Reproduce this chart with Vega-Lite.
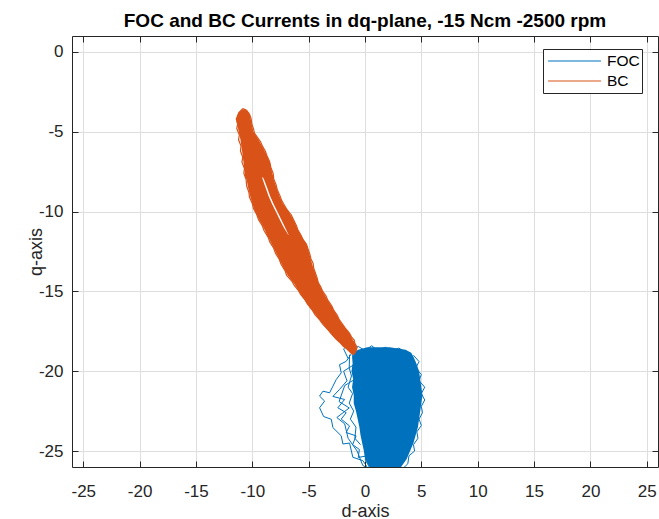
{
  "$schema": "https://vega.github.io/schema/vega-lite/v6.json",
  "width": 586,
  "height": 431,
  "autosize": {"type": "none"},
  "padding": {"left": 72, "top": 36, "right": 1, "bottom": 52},
  "background": "#ffffff",
  "title": {
    "text": "FOC and BC Currents in dq-plane, -15 Ncm -2500 rpm",
    "font": "Liberation Sans",
    "fontSize": 19,
    "fontWeight": "bold",
    "color": "#000000",
    "anchor": "middle",
    "offset": 5
  },
  "config": {
    "view": {"stroke": null},
    "font": "Liberation Sans"
  },
  "datasets": {
    "focArea": [
      {"q": -18.5, "L": 0.2, "R": 2.2},
      {"q": -18.65, "L": -0.6, "R": 3.6},
      {"q": -18.85, "L": -1.1, "R": 4.1},
      {"q": -19.1, "L": -1.15, "R": 4.3},
      {"q": -19.5, "L": -1.1, "R": 4.55},
      {"q": -20.0, "L": -1.2, "R": 4.8},
      {"q": -20.5, "L": -1.05, "R": 4.9},
      {"q": -21.0, "L": -1.15, "R": 5.0},
      {"q": -21.5, "L": -1.0, "R": 5.1},
      {"q": -22.0, "L": -1.0, "R": 5.0},
      {"q": -22.5, "L": -0.8, "R": 4.9},
      {"q": -23.0, "L": -0.65, "R": 4.8},
      {"q": -23.5, "L": -0.5, "R": 4.7},
      {"q": -24.0, "L": -0.4, "R": 4.5},
      {"q": -24.5, "L": -0.25, "R": 4.3},
      {"q": -25.0, "L": -0.1, "R": 4.0},
      {"q": -25.5, "L": 0.0, "R": 3.7},
      {"q": -26.0, "L": 0.4, "R": 3.2},
      {"q": -26.3, "L": 0.7, "R": 2.8}
    ],
    "bcArea": [
      {"part": "t", "q": -3.6, "L": -10.9, "R": -10.6},
      {"part": "t", "q": -3.8, "L": -11.2, "R": -10.35},
      {"part": "t", "q": -4.0, "L": -11.35, "R": -10.2},
      {"part": "t", "q": -4.35, "L": -11.4, "R": -10.1},
      {"part": "t", "q": -4.7, "L": -11.3, "R": -10.0},
      {"part": "t", "q": -5.0, "L": -11.2, "R": -9.9},
      {"part": "t", "q": -5.5, "L": -11.05, "R": -9.45},
      {"part": "t", "q": -6.0, "L": -10.95, "R": -9.05},
      {"part": "t", "q": -6.5, "L": -10.85, "R": -8.7},
      {"part": "t", "q": -7.0, "L": -10.77, "R": -8.4},
      {"part": "t", "q": -7.67, "L": -10.65, "R": -8.2},
      {"part": "t", "q": -7.85, "L": -10.6, "R": -8.15},
      {"part": "l", "q": -7.67, "L": -10.7, "R": -9.19},
      {"part": "l", "q": -8.0, "L": -10.5, "R": -9.07},
      {"part": "l", "q": -8.5, "L": -10.37, "R": -8.82},
      {"part": "l", "q": -9.0, "L": -10.2, "R": -8.57},
      {"part": "l", "q": -9.5, "L": -10.0, "R": -8.27},
      {"part": "l", "q": -10.0, "L": -9.75, "R": -7.92},
      {"part": "l", "q": -10.5, "L": -9.4, "R": -7.57},
      {"part": "l", "q": -11.0, "L": -9.0, "R": -7.21},
      {"part": "l", "q": -11.61, "L": -8.6, "R": -6.68},
      {"part": "r", "q": -7.67, "L": -9.19, "R": -8.2},
      {"part": "r", "q": -8.0, "L": -8.95, "R": -8.1},
      {"part": "r", "q": -8.5, "L": -8.68, "R": -7.85},
      {"part": "r", "q": -9.0, "L": -8.43, "R": -7.6},
      {"part": "r", "q": -9.5, "L": -8.13, "R": -7.3},
      {"part": "r", "q": -10.0, "L": -7.78, "R": -6.8},
      {"part": "r", "q": -10.5, "L": -7.43, "R": -6.35},
      {"part": "r", "q": -11.0, "L": -7.09, "R": -6.05},
      {"part": "r", "q": -11.61, "L": -6.68, "R": -5.6},
      {"part": "b", "q": -11.45, "L": -8.7, "R": -5.75},
      {"part": "b", "q": -12.0, "L": -8.3, "R": -5.2},
      {"part": "b", "q": -12.5, "L": -7.95, "R": -5.0},
      {"part": "b", "q": -13.0, "L": -7.6, "R": -4.8},
      {"part": "b", "q": -13.5, "L": -7.25, "R": -4.6},
      {"part": "b", "q": -14.0, "L": -6.85, "R": -4.35},
      {"part": "b", "q": -14.5, "L": -6.3, "R": -4.1},
      {"part": "b", "q": -15.0, "L": -5.85, "R": -3.75},
      {"part": "b", "q": -15.5, "L": -5.4, "R": -3.35},
      {"part": "b", "q": -16.0, "L": -4.9, "R": -2.9},
      {"part": "b", "q": -16.5, "L": -4.35, "R": -2.5},
      {"part": "b", "q": -17.0, "L": -3.8, "R": -2.1},
      {"part": "b", "q": -17.5, "L": -3.2, "R": -1.5},
      {"part": "b", "q": -18.0, "L": -2.6, "R": -1.1},
      {"part": "b", "q": -18.3, "L": -2.1, "R": -0.85},
      {"part": "b", "q": -18.6, "L": -1.7, "R": -0.75},
      {"part": "b", "q": -18.9, "L": -1.2, "R": -0.9}
    ],
    "focLines": [
      {"series": "FOC", "path": "f1", "i": 0, "d": -1.2, "q": -18.9},
      {"series": "FOC", "path": "f1", "i": 1, "d": -1.67, "q": -19.38},
      {"series": "FOC", "path": "f1", "i": 2, "d": -2.26, "q": -19.59},
      {"series": "FOC", "path": "f1", "i": 3, "d": -2.11, "q": -20.1},
      {"series": "FOC", "path": "f1", "i": 4, "d": -2.55, "q": -20.52},
      {"series": "FOC", "path": "f1", "i": 5, "d": -2.85, "q": -20.94},
      {"series": "FOC", "path": "f1", "i": 6, "d": -3.14, "q": -21.35},
      {"series": "FOC", "path": "f1", "i": 7, "d": -3.73, "q": -21.25},
      {"series": "FOC", "path": "f1", "i": 8, "d": -4.03, "q": -21.56},
      {"series": "FOC", "path": "f1", "i": 9, "d": -3.58, "q": -21.87},
      {"series": "FOC", "path": "f1", "i": 10, "d": -4.03, "q": -22.29},
      {"series": "FOC", "path": "f1", "i": 11, "d": -3.67, "q": -22.84},
      {"series": "FOC", "path": "f1", "i": 12, "d": -2.99, "q": -23.01},
      {"series": "FOC", "path": "f1", "i": 13, "d": -2.85, "q": -23.53},
      {"series": "FOC", "path": "f1", "i": 14, "d": -2.11, "q": -24.05},
      {"series": "FOC", "path": "f1", "i": 15, "d": -1.96, "q": -24.56},
      {"series": "FOC", "path": "f1", "i": 16, "d": -1.37, "q": -24.5},
      {"series": "FOC", "path": "f1", "i": 17, "d": -1.08, "q": -25.39},
      {"series": "FOC", "path": "f1", "i": 18, "d": -0.19, "q": -25.6},
      {"series": "FOC", "path": "f1", "i": 19, "d": 0.11, "q": -25.91},
      {"series": "FOC", "path": "f1", "i": 20, "d": 0.4, "q": -26.3},
      {"series": "FOC", "path": "f2", "i": 0, "d": -1.0, "q": -19.6},
      {"series": "FOC", "path": "f2", "i": 1, "d": -1.9, "q": -20.0},
      {"series": "FOC", "path": "f2", "i": 2, "d": -1.6, "q": -20.6},
      {"series": "FOC", "path": "f2", "i": 3, "d": -2.26, "q": -21.14},
      {"series": "FOC", "path": "f2", "i": 4, "d": -2.85, "q": -21.58},
      {"series": "FOC", "path": "f2", "i": 5, "d": -1.81, "q": -21.77},
      {"series": "FOC", "path": "f2", "i": 6, "d": -2.41, "q": -22.29},
      {"series": "FOC", "path": "f2", "i": 7, "d": -1.67, "q": -22.6},
      {"series": "FOC", "path": "f2", "i": 8, "d": -2.11, "q": -23.0},
      {"series": "FOC", "path": "f2", "i": 9, "d": -1.37, "q": -23.43},
      {"series": "FOC", "path": "f2", "i": 10, "d": -1.67, "q": -23.84},
      {"series": "FOC", "path": "f2", "i": 11, "d": -0.79, "q": -24.05},
      {"series": "FOC", "path": "f2", "i": 12, "d": -1.1, "q": -24.6},
      {"series": "FOC", "path": "f2", "i": 13, "d": -0.5, "q": -24.9},
      {"series": "FOC", "path": "f2", "i": 14, "d": -0.6, "q": -25.4},
      {"series": "FOC", "path": "f2", "i": 15, "d": 0.2, "q": -25.3},
      {"series": "FOC", "path": "f3", "i": 0, "d": -1.37, "q": -18.97},
      {"series": "FOC", "path": "f3", "i": 1, "d": -1.4, "q": -19.8},
      {"series": "FOC", "path": "f3", "i": 2, "d": -1.2, "q": -20.3},
      {"series": "FOC", "path": "f3", "i": 3, "d": -1.5, "q": -21.0},
      {"series": "FOC", "path": "f3", "i": 4, "d": -1.1, "q": -21.4},
      {"series": "FOC", "path": "f3", "i": 5, "d": -1.4, "q": -22.0},
      {"series": "FOC", "path": "f3", "i": 6, "d": -1.0, "q": -22.5},
      {"series": "FOC", "path": "f3", "i": 7, "d": -1.3, "q": -23.0},
      {"series": "FOC", "path": "f3", "i": 8, "d": -0.8, "q": -23.5},
      {"series": "FOC", "path": "f3", "i": 9, "d": -0.9, "q": -24.2},
      {"series": "FOC", "path": "f3", "i": 10, "d": -0.4, "q": -24.6},
      {"series": "FOC", "path": "f4", "i": 0, "d": -0.9, "q": -20.5},
      {"series": "FOC", "path": "f4", "i": 1, "d": -1.8, "q": -20.9},
      {"series": "FOC", "path": "f4", "i": 2, "d": -2.3, "q": -21.9},
      {"series": "FOC", "path": "f4", "i": 3, "d": -1.4, "q": -22.3},
      {"series": "FOC", "path": "f4", "i": 4, "d": -2.5, "q": -22.9},
      {"series": "FOC", "path": "f4", "i": 5, "d": -1.8, "q": -23.3},
      {"series": "FOC", "path": "f4", "i": 6, "d": -1.5, "q": -24.2},
      {"series": "FOC", "path": "f4", "i": 7, "d": -0.7, "q": -25.0},
      {"series": "FOC", "path": "f4", "i": 8, "d": -0.2, "q": -25.9},
      {"series": "FOC", "path": "f4", "i": 9, "d": 0.6, "q": -26.2},
      {"series": "FOC", "path": "f5", "i": 0, "d": -0.8, "q": -18.8},
      {"series": "FOC", "path": "f5", "i": 1, "d": -1.1, "q": -18.6},
      {"series": "FOC", "path": "f5", "i": 2, "d": -0.6, "q": -18.45},
      {"series": "FOC", "path": "f5", "i": 3, "d": 0.0, "q": -18.7},
      {"series": "FOC", "path": "f5", "i": 4, "d": 0.6, "q": -18.4},
      {"series": "FOC", "path": "f5", "i": 5, "d": 1.1, "q": -18.7},
      {"series": "FOC", "path": "f5", "i": 6, "d": 1.8, "q": -18.5},
      {"series": "FOC", "path": "f5", "i": 7, "d": 2.4, "q": -18.7},
      {"series": "FOC", "path": "f5", "i": 8, "d": 3.0, "q": -18.55},
      {"series": "FOC", "path": "f5", "i": 9, "d": 3.6, "q": -18.8},
      {"series": "FOC", "path": "f5", "i": 10, "d": 4.1, "q": -18.9},
      {"series": "FOC", "path": "f6", "i": 0, "d": 4.3, "q": -19.0},
      {"series": "FOC", "path": "f6", "i": 1, "d": 4.8, "q": -19.4},
      {"series": "FOC", "path": "f6", "i": 2, "d": 4.5, "q": -19.8},
      {"series": "FOC", "path": "f6", "i": 3, "d": 5.0, "q": -20.2},
      {"series": "FOC", "path": "f6", "i": 4, "d": 4.8, "q": -20.6},
      {"series": "FOC", "path": "f6", "i": 5, "d": 5.3, "q": -21.0},
      {"series": "FOC", "path": "f6", "i": 6, "d": 5.0, "q": -21.4},
      {"series": "FOC", "path": "f6", "i": 7, "d": 5.3, "q": -21.8},
      {"series": "FOC", "path": "f6", "i": 8, "d": 5.0, "q": -22.2},
      {"series": "FOC", "path": "f6", "i": 9, "d": 5.1, "q": -22.6},
      {"series": "FOC", "path": "f6", "i": 10, "d": 4.8, "q": -23.0},
      {"series": "FOC", "path": "f6", "i": 11, "d": 5.0, "q": -23.4},
      {"series": "FOC", "path": "f6", "i": 12, "d": 4.6, "q": -23.8},
      {"series": "FOC", "path": "f6", "i": 13, "d": 4.7, "q": -24.2},
      {"series": "FOC", "path": "f6", "i": 14, "d": 4.3, "q": -24.6},
      {"series": "FOC", "path": "f6", "i": 15, "d": 4.4, "q": -25.0},
      {"series": "FOC", "path": "f6", "i": 16, "d": 3.9, "q": -25.3},
      {"series": "FOC", "path": "f6", "i": 17, "d": 3.8, "q": -25.8},
      {"series": "FOC", "path": "f6", "i": 18, "d": 3.2, "q": -26.2},
      {"series": "FOC", "path": "f7", "i": 0, "d": 0.0, "q": -25.5},
      {"series": "FOC", "path": "f7", "i": 1, "d": 0.6, "q": -26.3},
      {"series": "FOC", "path": "f7", "i": 2, "d": 1.2, "q": -25.6},
      {"series": "FOC", "path": "f7", "i": 3, "d": 1.8, "q": -26.3},
      {"series": "FOC", "path": "f7", "i": 4, "d": 2.5, "q": -25.7},
      {"series": "FOC", "path": "f7", "i": 5, "d": 3.1, "q": -26.3},
      {"series": "FOC", "path": "f8", "i": 0, "d": -1.5, "q": -19.2},
      {"series": "FOC", "path": "f8", "i": 1, "d": -1.9, "q": -18.6},
      {"series": "FOC", "path": "f8", "i": 2, "d": -1.4, "q": -18.3},
      {"series": "FOC", "path": "f8", "i": 3, "d": -1.0, "q": -18.7}
    ],
    "bcLines": [
      {"series": "BC", "path": "b1", "i": 0, "d": -10.85, "q": -3.55},
      {"series": "BC", "path": "b1", "i": 1, "d": -11.2, "q": -3.8},
      {"series": "BC", "path": "b1", "i": 2, "d": -11.42, "q": -4.2},
      {"series": "BC", "path": "b1", "i": 3, "d": -11.3, "q": -4.5},
      {"series": "BC", "path": "b1", "i": 4, "d": -11.38, "q": -4.8},
      {"series": "BC", "path": "b1", "i": 5, "d": -11.15, "q": -5.2},
      {"series": "BC", "path": "b1", "i": 6, "d": -11.22, "q": -5.5},
      {"series": "BC", "path": "b1", "i": 7, "d": -11.0, "q": -5.9},
      {"series": "BC", "path": "b1", "i": 8, "d": -11.05, "q": -6.2},
      {"series": "BC", "path": "b1", "i": 9, "d": -10.85, "q": -6.6},
      {"series": "BC", "path": "b1", "i": 10, "d": -10.92, "q": -6.9},
      {"series": "BC", "path": "b1", "i": 11, "d": -10.7, "q": -7.3},
      {"series": "BC", "path": "b1", "i": 12, "d": -10.75, "q": -7.6},
      {"series": "BC", "path": "b1", "i": 13, "d": -10.55, "q": -8.0},
      {"series": "BC", "path": "b1", "i": 14, "d": -10.5, "q": -8.4},
      {"series": "BC", "path": "b1", "i": 15, "d": -10.3, "q": -8.8},
      {"series": "BC", "path": "b1", "i": 16, "d": -10.25, "q": -9.1},
      {"series": "BC", "path": "b1", "i": 17, "d": -10.0, "q": -9.5},
      {"series": "BC", "path": "b1", "i": 18, "d": -9.9, "q": -9.8},
      {"series": "BC", "path": "b1", "i": 19, "d": -9.6, "q": -10.2},
      {"series": "BC", "path": "b1", "i": 20, "d": -9.45, "q": -10.5},
      {"series": "BC", "path": "b1", "i": 21, "d": -9.1, "q": -10.9},
      {"series": "BC", "path": "b1", "i": 22, "d": -8.95, "q": -11.2},
      {"series": "BC", "path": "b1", "i": 23, "d": -8.6, "q": -11.6},
      {"series": "BC", "path": "b1", "i": 24, "d": -8.45, "q": -11.9},
      {"series": "BC", "path": "b1", "i": 25, "d": -8.1, "q": -12.3},
      {"series": "BC", "path": "b1", "i": 26, "d": -7.95, "q": -12.6},
      {"series": "BC", "path": "b1", "i": 27, "d": -7.6, "q": -13.0},
      {"series": "BC", "path": "b1", "i": 28, "d": -7.45, "q": -13.3},
      {"series": "BC", "path": "b1", "i": 29, "d": -7.1, "q": -13.7},
      {"series": "BC", "path": "b1", "i": 30, "d": -6.95, "q": -14.0},
      {"series": "BC", "path": "b1", "i": 31, "d": -6.5, "q": -14.35},
      {"series": "BC", "path": "b1", "i": 32, "d": -6.3, "q": -14.6},
      {"series": "BC", "path": "b1", "i": 33, "d": -5.9, "q": -14.95},
      {"series": "BC", "path": "b1", "i": 34, "d": -5.7, "q": -15.2},
      {"series": "BC", "path": "b1", "i": 35, "d": -5.3, "q": -15.55},
      {"series": "BC", "path": "b1", "i": 36, "d": -5.1, "q": -15.8},
      {"series": "BC", "path": "b1", "i": 37, "d": -4.7, "q": -16.15},
      {"series": "BC", "path": "b1", "i": 38, "d": -4.45, "q": -16.45},
      {"series": "BC", "path": "b1", "i": 39, "d": -4.0, "q": -16.8},
      {"series": "BC", "path": "b1", "i": 40, "d": -3.75, "q": -17.05},
      {"series": "BC", "path": "b1", "i": 41, "d": -3.3, "q": -17.4},
      {"series": "BC", "path": "b1", "i": 42, "d": -3.0, "q": -17.65},
      {"series": "BC", "path": "b1", "i": 43, "d": -2.6, "q": -17.95},
      {"series": "BC", "path": "b1", "i": 44, "d": -2.3, "q": -18.15},
      {"series": "BC", "path": "b1", "i": 45, "d": -1.9, "q": -18.45},
      {"series": "BC", "path": "b1", "i": 46, "d": -1.6, "q": -18.6},
      {"series": "BC", "path": "b1", "i": 47, "d": -1.25, "q": -18.85},
      {"series": "BC", "path": "b1", "i": 48, "d": -1.0, "q": -18.95},
      {"series": "BC", "path": "b1", "i": 49, "d": -0.8, "q": -18.75},
      {"series": "BC", "path": "b1", "i": 50, "d": -0.7, "q": -18.5},
      {"series": "BC", "path": "b1", "i": 51, "d": -0.9, "q": -18.25},
      {"series": "BC", "path": "b1", "i": 52, "d": -0.95, "q": -18.05},
      {"series": "BC", "path": "b1", "i": 53, "d": -1.2, "q": -17.85},
      {"series": "BC", "path": "b1", "i": 54, "d": -1.4, "q": -17.6},
      {"series": "BC", "path": "b1", "i": 55, "d": -1.75, "q": -17.3},
      {"series": "BC", "path": "b1", "i": 56, "d": -2.0, "q": -17.05},
      {"series": "BC", "path": "b1", "i": 57, "d": -2.3, "q": -16.75},
      {"series": "BC", "path": "b1", "i": 58, "d": -2.5, "q": -16.45},
      {"series": "BC", "path": "b1", "i": 59, "d": -2.8, "q": -16.15},
      {"series": "BC", "path": "b1", "i": 60, "d": -2.95, "q": -15.9},
      {"series": "BC", "path": "b1", "i": 61, "d": -3.3, "q": -15.55},
      {"series": "BC", "path": "b1", "i": 62, "d": -3.45, "q": -15.3},
      {"series": "BC", "path": "b1", "i": 63, "d": -3.75, "q": -15.0},
      {"series": "BC", "path": "b1", "i": 64, "d": -3.9, "q": -14.75},
      {"series": "BC", "path": "b1", "i": 65, "d": -4.15, "q": -14.45},
      {"series": "BC", "path": "b1", "i": 66, "d": -4.25, "q": -14.15},
      {"series": "BC", "path": "b1", "i": 67, "d": -4.4, "q": -13.85},
      {"series": "BC", "path": "b1", "i": 68, "d": -4.55, "q": -13.55},
      {"series": "BC", "path": "b1", "i": 69, "d": -4.6, "q": -13.25},
      {"series": "BC", "path": "b1", "i": 70, "d": -4.8, "q": -12.95},
      {"series": "BC", "path": "b1", "i": 71, "d": -4.9, "q": -12.65},
      {"series": "BC", "path": "b1", "i": 72, "d": -5.05, "q": -12.35},
      {"series": "BC", "path": "b1", "i": 73, "d": -5.2, "q": -12.05},
      {"series": "BC", "path": "b1", "i": 74, "d": -5.5, "q": -11.75},
      {"series": "BC", "path": "b1", "i": 75, "d": -5.7, "q": -11.45},
      {"series": "BC", "path": "b1", "i": 76, "d": -5.95, "q": -11.15},
      {"series": "BC", "path": "b1", "i": 77, "d": -6.1, "q": -10.85},
      {"series": "BC", "path": "b1", "i": 78, "d": -6.35, "q": -10.5},
      {"series": "BC", "path": "b1", "i": 79, "d": -6.55, "q": -10.2},
      {"series": "BC", "path": "b1", "i": 80, "d": -6.9, "q": -9.9},
      {"series": "BC", "path": "b1", "i": 81, "d": -7.15, "q": -9.6},
      {"series": "BC", "path": "b1", "i": 82, "d": -7.4, "q": -9.3},
      {"series": "BC", "path": "b1", "i": 83, "d": -7.55, "q": -9.0},
      {"series": "BC", "path": "b1", "i": 84, "d": -7.8, "q": -8.6},
      {"series": "BC", "path": "b1", "i": 85, "d": -7.9, "q": -8.3},
      {"series": "BC", "path": "b1", "i": 86, "d": -8.1, "q": -7.95},
      {"series": "BC", "path": "b1", "i": 87, "d": -8.15, "q": -7.6},
      {"series": "BC", "path": "b1", "i": 88, "d": -8.35, "q": -7.25},
      {"series": "BC", "path": "b1", "i": 89, "d": -8.45, "q": -6.9},
      {"series": "BC", "path": "b1", "i": 90, "d": -8.7, "q": -6.5},
      {"series": "BC", "path": "b1", "i": 91, "d": -8.85, "q": -6.2},
      {"series": "BC", "path": "b1", "i": 92, "d": -9.1, "q": -5.9},
      {"series": "BC", "path": "b1", "i": 93, "d": -9.25, "q": -5.65},
      {"series": "BC", "path": "b1", "i": 94, "d": -9.5, "q": -5.4},
      {"series": "BC", "path": "b1", "i": 95, "d": -9.8, "q": -5.1},
      {"series": "BC", "path": "b1", "i": 96, "d": -9.9, "q": -4.8},
      {"series": "BC", "path": "b1", "i": 97, "d": -10.05, "q": -4.5},
      {"series": "BC", "path": "b1", "i": 98, "d": -10.1, "q": -4.2},
      {"series": "BC", "path": "b1", "i": 99, "d": -10.25, "q": -3.9},
      {"series": "BC", "path": "b1", "i": 100, "d": -10.5, "q": -3.65},
      {"series": "BC", "path": "b1", "i": 101, "d": -10.85, "q": -3.55}
    ]
  },
  "resolve": {"axis": {"x": "independent", "y": "independent"}},
  "layer": [
    {
      "data": {"name": "focArea"},
      "mark": {"type": "area", "orient": "horizontal", "color": "#0072BD", "clip": true},
      "encoding": {
        "y": {"field": "q", "type": "quantitative",
          "scale": {"domain": [-26, 1], "nice": false, "zero": false},
          "axis": {"values": [-25, -20, -15, -10, -5, 0], "grid": true, "gridColor": "#dedede", "gridWidth": 1, "domain": false, "ticks": false, "labels": false, "title": null, "zindex": 0}},
        "x": {"field": "L", "type": "quantitative",
          "scale": {"domain": [-26, 26], "nice": false, "zero": false},
          "axis": {"values": [-25, -20, -15, -10, -5, 0, 5, 10, 15, 20, 25], "grid": true, "gridColor": "#dedede", "gridWidth": 1, "domain": false, "ticks": false, "labels": false, "title": null, "zindex": 0}},
        "x2": {"field": "R"}
      }
    },
    {
      "data": {"name": "focLines"},
      "mark": {"type": "line", "strokeWidth": 1, "clip": true, "strokeJoin": "round"},
      "encoding": {
        "x": {"field": "d", "type": "quantitative",
          "axis": {"orient": "top", "values": [-25, -20, -15, -10, -5, 0, 5, 10, 15, 20, 25], "grid": false, "domain": true, "domainColor": "#262626", "ticks": true, "tickColor": "#262626", "tickSize": -6, "labels": false, "title": null, "zindex": 1}},
        "y": {"field": "q", "type": "quantitative",
          "axis": {"orient": "right", "values": [-25, -20, -15, -10, -5, 0], "grid": false, "domain": true, "domainColor": "#262626", "ticks": true, "tickColor": "#262626", "tickSize": -6, "labels": false, "title": null, "zindex": 1}},
        "color": {"field": "series", "type": "nominal",
          "scale": {"domain": ["FOC", "BC"], "range": ["#0072BD", "#D95319"]},
          "legend": {"title": null, "orient": "none", "legendX": 471, "legendY": 13, "padding": 2, "fillColor": "#ffffff", "strokeColor": "#262626", "symbolType": "stroke", "symbolSize": 2800, "symbolStrokeWidth": 1.2, "symbolOffset": 2, "clipHeight": 20, "labelFont": "Liberation Sans", "labelFontSize": 15.5, "labelColor": "#000000", "labelOffset": 5, "labelExpr": "datum.label + '   '", "rowPadding": 0, "cornerRadius": 0}},
        "detail": {"field": "path", "type": "nominal"},
        "order": {"field": "i", "type": "quantitative"}
      }
    },
    {
      "data": {"name": "bcArea"},
      "mark": {"type": "area", "orient": "horizontal", "color": "#D95319", "clip": true},
      "encoding": {
        "y": {"field": "q", "type": "quantitative", "axis": null},
        "x": {"field": "L", "type": "quantitative", "axis": null},
        "x2": {"field": "R"},
        "detail": {"field": "part", "type": "nominal"}
      }
    },
    {
      "data": {"name": "bcLines"},
      "mark": {"type": "line", "strokeWidth": 1.2, "clip": true, "strokeJoin": "round"},
      "encoding": {
        "x": {"field": "d", "type": "quantitative",
          "axis": {"orient": "bottom", "values": [-25, -20, -15, -10, -5, 0, 5, 10, 15, 20, 25], "labelExpr": "'' + datum.value", "grid": false, "domain": true, "domainColor": "#262626", "ticks": true, "tickColor": "#262626", "tickSize": -6, "labels": true, "labelFont": "Liberation Sans", "labelFontSize": 17, "labelColor": "#262626", "labelPadding": 22, "labelOverlap": false, "labelFlush": false, "title": "d-axis", "titleFont": "Liberation Sans", "titleFontSize": 18, "titleFontWeight": "normal", "titleColor": "#262626", "titlePadding": 3, "zindex": 1}},
        "y": {"field": "q", "type": "quantitative",
          "axis": {"orient": "left", "values": [-25, -20, -15, -10, -5, 0], "labelExpr": "'' + datum.value", "grid": false, "domain": true, "domainColor": "#262626", "ticks": true, "tickColor": "#262626", "tickSize": -6, "labels": true, "labelFont": "Liberation Sans", "labelFontSize": 17, "labelColor": "#262626", "labelPadding": 15, "labelOverlap": false, "labelFlush": false, "title": "q-axis", "titleFont": "Liberation Sans", "titleFontSize": 18, "titleFontWeight": "normal", "titleColor": "#262626", "titleX": -27, "zindex": 1}},
        "color": {"field": "series", "type": "nominal",
          "scale": {"domain": ["FOC", "BC"], "range": ["#0072BD", "#D95319"]},
          "legend": {"title": null, "orient": "none", "legendX": 471, "legendY": 13, "padding": 2, "fillColor": "#ffffff", "strokeColor": "#262626", "symbolType": "stroke", "symbolSize": 2800, "symbolStrokeWidth": 1.2, "symbolOffset": 2, "clipHeight": 20, "labelFont": "Liberation Sans", "labelFontSize": 15.5, "labelColor": "#000000", "labelOffset": 5, "labelExpr": "datum.label + '   '", "rowPadding": 0, "cornerRadius": 0}},
        "detail": {"field": "path", "type": "nominal"},
        "order": {"field": "i", "type": "quantitative"}
      }
    }
  ]
}
